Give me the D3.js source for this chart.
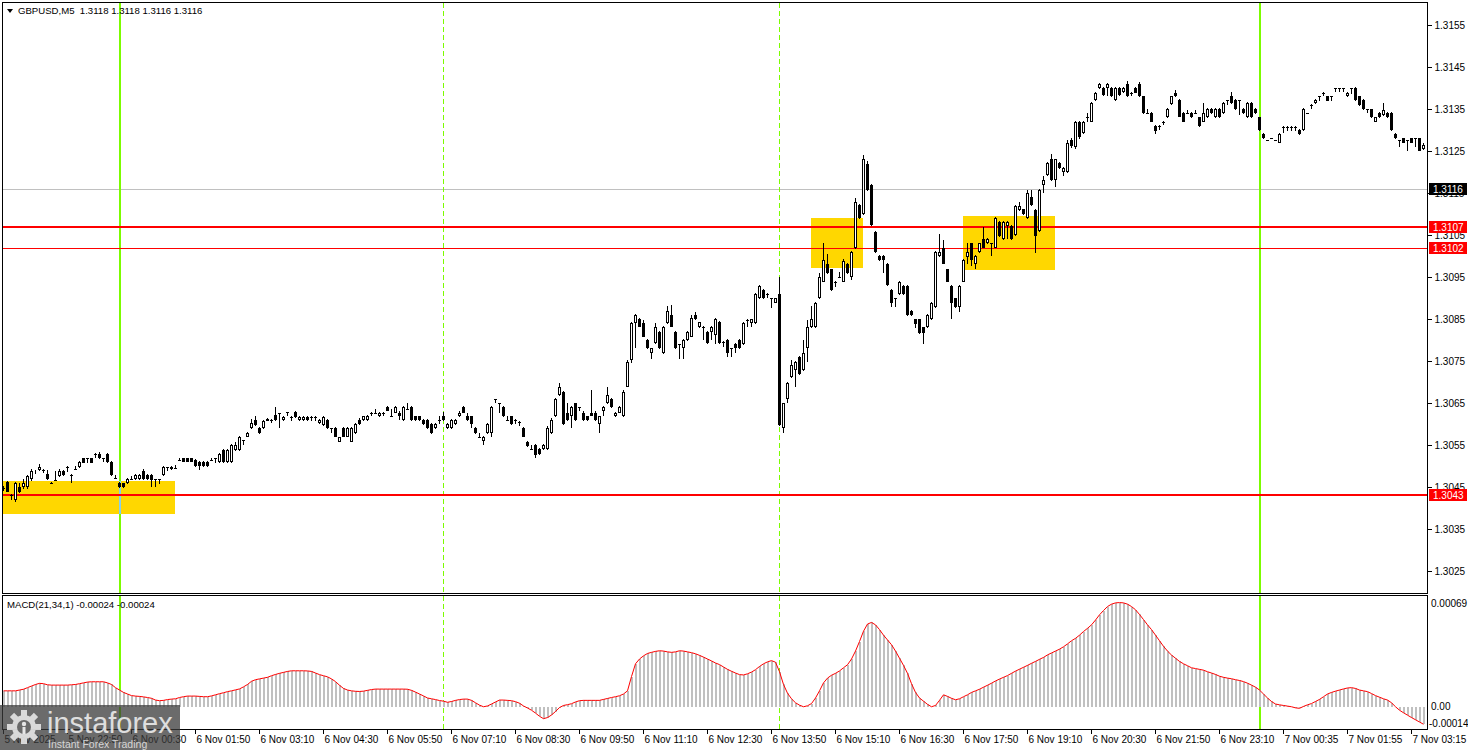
<!DOCTYPE html>
<html><head><meta charset="utf-8">
<script src="https://cdn.jsdelivr.net/npm/d3@7"></script>
<style>html,body{margin:0;padding:0;background:#fff;overflow:hidden}text{font-family:"Liberation Sans",Arial,sans-serif}</style>
</head><body><svg id="c" width="1468" height="750"></svg>
<script>
// ---- data ----
const BASE = 1.3;            // candle values are pips above BASE
const PIP = 0.0001;
const ohlcPips = [
[44.8,45.2,44.0,44.7],[46.3,46.5,43.7,43.9],[43.2,43.3,41.9,43.1],[41.9,46.3,41.5,45.9],[44.9,45.9,43.5,43.7],[44.9,46.9,44.5,45.9],[44.9,47.9,44.6,47.6],[46.8,49.2,46.5,48.9],
[48.9,49.1,48.0,49.0],[49.0,50.4,48.8,49.8],[49.0,49.2,48.4,49.0],[48.0,49.0,46.6,46.8],[46.0,46.1,45.9,46.0],[46.6,48.9,46.5,46.6],[47.6,49.2,47.4,48.9],[48.9,49.1,47.7,47.9],
[49.8,50.0,48.6,49.8],[47.9,48.0,45.9,47.9],[49.3,50.0,49.2,49.4],[49.7,51.3,49.5,51.0],[51.8,52.0,50.6,50.8],[51.8,51.9,50.8,51.8],[51.8,52.0,50.6,50.8],[52.9,53.0,52.0,52.9],
[52.9,53.3,51.6,51.8],[51.8,51.9,51.0,51.8],[52.9,53.1,50.8,51.0],[51.0,51.2,47.7,47.9],[47.1,47.9,47.0,47.1],[46.0,46.2,44.7,44.9],[45.9,46.0,44.7,44.9],[45.9,47.1,45.7,46.9],
[46.9,47.6,46.8,46.9],[46.8,48.1,46.6,47.9],[46.8,48.1,46.6,47.9],[48.9,49.3,46.6,46.8],[47.9,48.1,46.6,46.8],[47.9,48.0,45.1,46.7],[46.8,46.9,45.1,46.8],[46.8,46.9,45.8,46.8],
[47.9,50.0,47.7,49.8],[49.7,49.8,48.8,49.7],[49.2,49.9,49.0,49.7],[49.5,50.2,49.4,49.5],[51.4,51.9,51.3,51.4],[51.8,52.0,50.9,51.0],[51.8,52.0,50.9,51.0],[51.8,52.0,50.9,51.0],
[51.4,51.6,49.8,50.0],[51.0,51.2,49.0,50.0],[51.0,51.1,49.8,50.0],[51.0,51.1,49.8,50.0],[51.4,51.9,51.3,51.4],[51.8,51.9,50.6,51.8],[51.0,53.1,50.8,52.9],[53.8,54.0,50.8,51.0],
[51.0,54.0,50.8,53.8],[51.0,55.2,50.8,55.0],[53.9,55.8,53.6,55.0],[53.9,57.2,53.6,57.0],[56.2,56.3,55.0,56.2],[57.0,58.1,56.8,57.9],[59.0,61.3,58.8,60.2],[61.0,62.0,59.6,59.8],
[59.0,59.2,57.6,57.8],[59.0,61.0,58.8,60.8],[60.8,61.4,60.6,61.2],[61.0,61.1,60.2,61.0],[62.1,64.1,60.8,61.0],[62.5,62.6,59.0,62.5],[61.0,61.9,60.8,61.7],[62.8,62.9,61.8,62.8],
[61.7,61.8,60.8,61.7],[62.8,63.0,61.5,61.7],[61.0,61.9,60.8,61.7],[61.0,61.9,60.8,61.7],[61.7,61.9,60.8,61.0],[61.7,61.8,60.8,61.7],[61.7,61.8,60.8,61.7],[60.2,61.2,60.0,61.0],
[59.8,61.9,59.6,61.7],[61.0,61.3,58.8,59.0],[59.0,59.1,57.8,59.0],[59.0,59.2,56.8,57.0],[55.8,57.0,55.6,56.8],[59.0,59.2,56.8,57.0],[57.0,59.2,56.8,59.0],[55.8,59.2,55.6,59.0],
[57.8,60.2,57.6,60.0],[61.0,61.5,59.8,60.0],[61.0,61.9,60.8,61.8],[61.0,62.2,60.8,61.8],[62.7,62.8,61.8,62.7],[62.7,63.5,62.6,62.7],[61.8,62.8,61.6,62.7],[62.7,62.8,61.8,62.7],
[64.0,64.2,63.0,63.1],[62.0,63.5,61.9,62.0],[62.7,64.2,62.5,64.0],[62.7,63.0,61.0,61.8],[61.0,64.3,60.8,64.0],[63.5,64.9,63.4,63.5],[64.0,64.3,60.8,61.0],[61.8,62.0,60.8,61.0],
[61.8,62.0,60.8,61.0],[61.0,61.2,59.8,60.0],[61.0,61.2,58.8,59.0],[60.0,60.2,57.6,57.8],[59.0,60.2,58.8,60.0],[61.0,61.8,60.0,61.0],[61.8,62.8,60.8,61.0],[59.0,60.2,58.8,60.0],
[59.0,61.2,58.8,61.0],[60.0,61.2,59.8,61.0],[61.8,63.0,61.6,62.7],[64.0,64.2,62.5,62.7],[61.8,62.7,60.8,61.0],[61.8,62.0,59.0,60.0],[59.0,59.2,57.6,57.8],[57.0,57.8,56.9,57.0],
[55.9,57.2,55.0,57.0],[57.8,60.2,57.6,60.0],[57.8,64.2,57.0,64.0],[65.9,66.0,64.9,65.9],[64.9,65.0,62.7,64.9],[64.0,64.2,61.6,61.8],[61.0,62.0,60.9,61.0],[61.8,62.0,59.8,60.0],
[61.0,61.1,60.0,61.0],[60.5,60.6,59.5,60.5],[59.0,59.2,56.8,57.0],[55.8,56.0,54.6,54.8],[54.0,55.0,53.9,54.0],[55.0,55.2,51.8,52.6],[54.0,54.2,52.7,52.9],[54.0,55.2,53.8,55.0],
[54.0,59.5,53.8,59.0],[57.8,61.5,57.6,61.0],[61.8,66.2,61.6,65.9],[66.9,69.7,66.7,68.9],[67.7,67.9,59.8,60.0],[62.7,64.9,60.8,61.0],[61.8,64.2,59.0,64.0],[64.9,65.1,60.8,61.0],
[64.0,64.1,63.0,64.0],[62.7,63.0,60.8,61.0],[61.8,62.0,60.8,61.0],[62.7,68.1,61.8,61.9],[62.7,63.0,60.8,61.0],[60.0,62.0,57.8,61.8],[63.0,64.2,62.0,64.0],[64.9,68.9,64.7,66.9],
[65.9,66.1,63.8,64.0],[61.8,62.9,61.6,62.7],[62.7,64.2,62.5,64.0],[61.8,68.0,61.6,67.7],[68.9,75.2,68.7,74.8],[75.2,84.2,74.6,84.0],[84.0,86.2,78.0,86.0],[85.0,85.2,83.0,83.2],
[84.0,84.7,80.6,80.8],[80.0,80.2,77.8,78.0],[76.8,78.2,75.5,78.0],[79.2,84.0,79.0,83.2],[82.0,82.2,77.8,78.0],[76.8,83.4,76.6,83.2],[84.0,88.0,83.8,86.8],[86.0,88.3,83.0,83.2],
[82.0,82.2,77.8,78.0],[79.0,79.1,75.5,79.0],[78.0,80.2,75.5,80.0],[80.0,82.2,79.8,82.0],[80.8,86.0,80.6,85.2],[86.0,86.6,84.8,85.0],[83.0,84.4,82.8,84.2],[83.2,83.3,80.0,83.2],
[82.0,82.2,79.0,79.2],[82.0,83.4,80.0,83.2],[81.2,85.2,79.0,85.0],[84.4,84.6,79.0,79.2],[79.6,79.7,78.4,79.6],[80.0,80.2,76.0,76.8],[78.0,78.1,76.0,78.0],[79.0,79.2,77.0,78.0],
[80.0,80.2,77.8,78.0],[79.0,84.2,78.8,84.0],[84.8,84.9,83.2,84.8],[84.0,85.1,83.2,84.9],[84.0,91.2,83.8,91.0],[89.9,93.1,89.7,92.9],[91.9,92.1,89.7,89.9],[91.0,91.1,90.0,91.0],
[89.9,90.0,87.5,89.9],[88.9,90.1,88.7,89.9],[91.0,95.0,59.6,59.8],[59.0,65.1,57.8,64.9],[65.9,70.0,65.0,69.8],[71.3,75.2,71.0,74.0],[72.8,75.0,68.9,74.8],[75.9,76.1,71.7,71.9],
[72.8,80.0,72.6,76.8],[78.0,84.8,74.8,83.0],[83.0,88.0,82.8,84.9],[83.0,89.1,82.8,88.9],[89.9,95.9,89.7,95.1],[93.9,103.0,93.7,99.0],[98.1,100.5,95.7,95.9],[96.8,97.0,91.7,91.9],
[93.9,94.0,92.7,93.9],[95.1,96.3,95.0,95.1],[93.9,99.2,93.7,98.9],[98.1,98.3,95.7,95.9],[95.1,101.1,94.3,100.9],[101.8,113.8,101.6,112.9],[112.1,112.3,108.8,109.0],[110.0,124.0,109.8,123.0],
[122.0,122.5,115.5,115.7],[117.0,117.2,107.2,107.4],[105.8,106.0,100.7,100.9],[100.0,100.2,98.8,99.0],[100.0,100.2,95.9,99.0],[98.1,98.3,92.9,93.1],[91.9,92.1,87.9,88.9],[89.9,90.0,87.9,89.9],
[90.9,94.1,90.7,93.9],[92.9,93.1,90.7,90.9],[92.9,93.1,85.7,85.9],[86.9,87.1,85.7,85.9],[84.9,85.1,82.8,83.9],[84.9,85.1,81.5,81.7],[83.0,83.2,79.0,81.7],[83.0,86.1,82.8,85.9],
[84.9,89.1,84.7,88.9],[87.9,101.1,87.7,100.9],[100.0,105.2,99.8,100.9],[101.8,103.8,98.0,98.1],[96.8,97.0,93.7,93.9],[92.9,93.1,84.9,88.9],[89.9,90.1,87.7,87.9],[87.9,93.1,86.7,92.9],
[93.9,99.2,93.7,99.0],[99.8,103.0,98.1,100.9],[103.0,103.2,97.5,99.0],[98.1,100.2,96.8,100.0],[101.0,103.2,100.8,103.0],[104.0,106.8,101.8,102.0],[103.0,104.2,102.8,104.0],[103.0,103.1,100.0,103.0],
[102.0,109.2,101.8,109.0],[108.2,108.4,104.6,104.8],[104.0,108.4,103.8,108.2],[107.2,108.4,104.0,108.2],[107.2,107.4,103.8,104.0],[105.0,112.2,104.8,112.0],[111.0,112.9,110.8,112.0],[111.1,111.3,109.8,110.0],
[109.0,115.7,108.8,114.9],[114.1,115.8,111.9,112.1],[110.9,111.1,100.6,104.8],[106.0,115.9,105.8,115.7],[116.9,119.0,115.0,118.1],[119.3,122.3,119.1,122.1],[123.0,124.2,117.9,118.1],[118.1,123.2,116.5,123.0],
[122.1,122.3,120.7,120.9],[120.0,121.1,119.0,120.9],[120.0,127.5,119.8,126.8],[127.5,128.0,125.8,126.2],[126.0,132.2,125.5,132.0],[132.0,132.2,127.8,128.4],[129.2,132.2,129.0,132.0],[133.2,134.0,132.0,133.2],
[132.0,136.6,131.8,136.4],[137.1,139.1,136.9,138.9],[140.0,141.3,139.8,141.0],[140.0,140.2,138.1,138.3],[140.0,141.3,138.0,141.0],[140.0,140.2,137.9,138.1],[137.1,140.2,136.9,140.0],[140.0,140.2,138.1,138.3],
[139.0,140.2,138.8,140.0],[141.0,141.6,137.8,138.0],[138.9,139.0,138.0,138.9],[140.0,140.2,138.7,138.9],[141.0,141.5,137.8,138.0],[138.0,138.2,133.8,134.0],[134.0,135.0,133.9,134.0],[134.0,134.2,131.8,132.0],
[131.0,131.2,129.0,129.8],[131.0,131.1,130.0,131.0],[132.0,132.1,131.2,132.0],[133.0,135.2,132.8,135.0],[136.1,138.2,135.9,138.0],[138.9,139.5,137.8,138.0],[137.1,137.3,133.0,133.2],[134.0,134.2,131.8,132.0],
[134.0,134.8,133.9,134.0],[134.0,134.2,132.8,133.0],[134.0,134.8,133.9,134.0],[133.0,133.2,130.8,131.0],[132.0,136.4,131.8,134.0],[133.0,135.2,132.8,135.0],[135.0,135.2,133.8,134.0],[133.0,135.2,132.8,135.0],
[135.0,135.2,132.8,133.0],[134.0,136.6,133.8,136.4],[137.1,137.2,136.0,137.1],[138.0,139.0,136.2,136.4],[137.1,137.3,134.7,134.9],[137.1,137.2,133.5,137.1],[135.0,135.2,133.8,134.0],[133.0,136.6,132.8,136.4],
[136.4,136.6,132.8,133.0],[135.0,135.2,133.8,134.0],[133.0,133.2,129.8,130.0],[129.0,129.2,127.8,128.0],[127.6,127.7,127.5,127.6],[128.0,128.1,127.9,128.0],[127.5,127.6,127.4,127.5],[127.0,129.2,126.8,129.0],
[130.8,130.9,129.2,130.8],[130.8,130.9,129.8,130.8],[130.8,130.9,129.8,130.8],[130.8,130.9,129.8,130.8],[130.0,130.2,128.8,129.0],[130.0,135.2,129.8,134.9],[134.0,134.1,133.9,134.0],[136.0,136.1,135.0,136.0],
[136.4,137.4,136.2,137.1],[138.0,138.1,137.0,138.0],[138.9,139.0,138.0,138.9],[138.0,138.2,136.8,137.0],[138.0,138.1,137.0,138.0],[140.0,140.1,139.0,140.0],[140.0,140.1,139.0,140.0],[140.0,140.1,139.0,140.0],
[138.0,139.1,137.8,138.9],[140.0,140.1,138.5,140.0],[140.0,140.2,136.9,137.1],[138.0,138.2,135.8,136.0],[137.1,137.3,134.7,134.9],[134.9,135.0,134.0,134.9],[134.9,135.1,132.8,133.0],[132.0,133.2,131.8,133.0],
[134.0,134.2,132.8,133.0],[133.5,136.4,133.3,134.8],[134.0,134.2,132.8,133.0],[134.0,134.2,129.8,130.0],[129.0,129.2,127.8,128.0],[127.6,127.7,126.0,127.6],[128.0,128.2,126.8,127.0],[127.6,127.7,125.0,127.6],
[128.0,128.2,126.8,127.0],[128.0,128.1,126.0,128.0],[128.0,128.2,124.9,125.1],[125.5,127.0,125.3,126.5]
];
// MACD(21,34,1) main value per bar, in units of 0.00001
const macdE5 = [
10,10,10,10,10.5,11,12,13,14,14.7,14.5,13.8,13.6,13.6,13.6,13.6,
13.6,13.8,14,14.5,15,15.5,15.7,15.7,15.7,15.7,15,14,12,10.5,9,8,
7,6.7,6.5,6.2,5.8,5.3,4.2,3.8,4,4.5,4.8,5,5.8,6.3,6.7,6.7,
6.7,6.5,6.3,6.3,6.8,7.5,8.2,8.8,9.5,10,10.6,11.2,12.5,14,16,17,
17.5,18,18.5,19.5,20.3,21,21.6,22.2,22.6,22.6,22.6,22.6,22.5,22.2,21.2,20.2,
19.5,18.8,17.5,15.8,13.5,11.5,10.5,10,9.7,9.6,9.8,10.3,10.8,11.1,11.1,11.1,
11.1,11.1,11.1,11.1,11.1,11,10.3,9.2,8,6.8,5.5,5,4.5,3.9,3.5,2.8,
3.3,4,4.5,4.8,4.8,4,2.5,1,0,0.5,1.7,3,4.2,4.2,4,3.8,
3.2,2.2,0.5,-0.8,-2.2,-4,-6,-7.5,-6.8,-5.2,-3,-0.5,0.8,1.3,1.9,3,
3.8,4,4,4,4,4,4.6,5.2,5.8,6.3,6.9,8,10,19,27,30,
32,33.5,34.2,34.8,35.2,35,34.5,34.2,34.5,35.2,35,34.5,34,33.3,32.3,31.2,
30,28.8,27.5,26.5,25,23.5,22.3,21.2,20.2,20,20.7,21.8,23.3,25.3,27,28.2,
29,28,22,14,8.5,5,2.5,1,0,0.6,2,5.5,10,15,18,19.8,
21,22.5,24.5,26.4,30,35,41,47.5,52,53,51.5,48.5,45,42,39,35,
30.5,26,21,14.5,9,5.5,3.5,1.5,0,0.8,4,7.5,6.5,5.3,4.4,5,
6.3,7.5,9,10,11,12.3,13.5,14.8,16.2,17.4,18.5,19.6,21,22.4,23.6,24.8,
26,27.3,28.5,29.8,31,32.6,33.8,35,36.2,37.7,39.5,41.5,43,45,47.3,49.3,
51.5,54.5,57.8,60.5,63,64.5,65.3,65.5,65.3,64.5,63,61,58,54.8,51.5,48.5,
45,41.5,38,35,32.5,30.5,28.5,27,25.8,24.5,24,23.5,23,22,21.2,20.3,
19.2,18.5,18,17.6,17,16.5,15.8,14.8,13.6,12.3,10.5,8,5.5,3.3,1.7,1.2,
0.8,0.4,0,-0.7,-1,0.2,1.2,2,3.3,4.6,6.3,8,9,9.8,10.5,11.2,
11.8,12,11.5,10.5,10,9.5,8.3,7,6,5,4.2,2.5,0,-2.2,-3.8,-5.3,
-6.8,-8.2,-9.6,-11
];
const timeLabels = ["5 Nov 2025","5 Nov 22:50","6 Nov 00:30","6 Nov 01:50","6 Nov 03:10","6 Nov 04:30","6 Nov 05:50","6 Nov 07:10","6 Nov 08:30","6 Nov 09:50","6 Nov 11:10","6 Nov 12:30","6 Nov 13:50","6 Nov 15:10","6 Nov 16:30","6 Nov 17:50","6 Nov 19:10","6 Nov 20:30","6 Nov 21:50","6 Nov 23:10","7 Nov 00:35","7 Nov 01:55","7 Nov 03:15"];
const BARS_PER_LABEL = 16;
const priceTicks = [1.3025,1.3035,1.3045,1.3055,1.3065,1.3075,1.3085,1.3095,1.3105,1.3115,1.3125,1.3135,1.3145,1.3155];
const levelPrices = [1.3107, 1.3102, 1.3043];
const bidPrice = 1.3116;
// zones: [first bar, last bar, low price, high price]
const zoneBars = [[0,43],[202,215],[240,263]];
const zonePrices = [[1.30386,1.30464],[1.30971,1.31090],[1.30967,1.31095]];
const solidLineBars = [29, 314];
const dashedLineBars = [110, 194];
const macdTickValues = [0.00069, 0, -0.00014];
const macdTickLabels = ["0.00069", "0.00", "-0.00014"];
const headerText = "GBPUSD,M5  1.3118 1.3118 1.3116 1.3116";
const macdText = "MACD(21,34,1) -0.00024 -0.00024";

// ---- layout ----
const L = 3, R = 1427, MT = 3, MB = 593, IT = 596, IB = 729;
const svg = d3.select("#c");
const n = ohlcPips.length;
const x = d3.scaleLinear().domain([0, n - 1]).range([3.5, 3.5 + 4 * (n - 1)]);
const y = d3.scaleLinear().domain([1.3155, 1.3025]).range([25, 571]);
const ym = d3.scaleLinear().domain([0.00069, -0.00014]).range([IB - 132, IB]);
const price = v => BASE + v * PIP;

svg.append("rect").attr("width", 1468).attr("height", 750).attr("fill", "#fff");

const defs = svg.append("defs");
defs.append("clipPath").attr("id", "cm").append("rect").attr("x", L).attr("y", MT).attr("width", R - L).attr("height", MB - MT);
defs.append("clipPath").attr("id", "ci").append("rect").attr("x", L).attr("y", IT).attr("width", R - L).attr("height", IB - IT);

const main = svg.append("g").attr("clip-path", "url(#cm)");
const ind = svg.append("g").attr("clip-path", "url(#ci)");

// zones
zoneBars.forEach((b, k) => {
  const p = zonePrices[k];
  main.append("rect").attr("x", Math.round(x(b[0]) - 0.5)).attr("width", Math.round(x(b[1]) - x(b[0])))
    .attr("y", Math.round(y(p[1]))).attr("height", Math.round(y(p[0]) - y(p[1])))
    .attr("fill", "#FFD700").attr("shape-rendering", "crispEdges");
});

// bid line
main.append("line").attr("x1", L).attr("x2", R).attr("y1", Math.round(y(bidPrice)) + 0.5).attr("y2", Math.round(y(bidPrice)) + 0.5)
  .attr("stroke", "#c0c0c0").attr("stroke-width", 1).attr("shape-rendering", "crispEdges");

// vertical lines in both panels
[main, ind].forEach((g, gi) => {
  const top = gi === 0 ? MT : IT, bot = gi === 0 ? MB : IB;
  solidLineBars.forEach(b => {
    g.append("rect").attr("x", Math.round(x(b)) - 1.5).attr("width", 2).attr("y", top).attr("height", bot - top)
      .attr("fill", "#7CFC00").attr("shape-rendering", "crispEdges");
  });
  dashedLineBars.forEach(b => {
    g.append("line").attr("x1", Math.round(x(b)) - 0.5).attr("x2", Math.round(x(b)) - 0.5).attr("y1", top).attr("y2", bot)
      .attr("stroke", "#7CFC00").attr("stroke-dasharray", "5,3").attr("shape-rendering", "crispEdges");
  });
});
// XOR-like tint where the first green line crosses the first zone
{
  const b = solidLineBars[0], p = zonePrices[0];
  main.append("rect").attr("x", Math.round(x(b)) - 1.5).attr("width", 2)
    .attr("y", Math.round(y(p[1]))).attr("height", Math.round(y(p[0]) - y(p[1])))
    .attr("fill", "#87CEEB").attr("shape-rendering", "crispEdges");
}

// level lines
levelPrices.forEach((pv, k) => {
  const w = k === 1 ? 1 : 2;
  const yy = Math.round(y(pv));
  main.append("rect").attr("x", L).attr("width", R - L).attr("y", yy - (w === 2 ? 1 : 0)).attr("height", w)
    .attr("fill", "#FF0000").attr("shape-rendering", "crispEdges");
});

// candles
const cg = main.append("g").attr("shape-rendering", "crispEdges");
ohlcPips.forEach((d, i) => {
  const [o, h, l, c] = d.map(price);
  const xc = Math.round(x(i) - 0.5) + 0.5;
  const yh = Math.round(y(h)), yl = Math.round(y(l));
  cg.append("line").attr("x1", xc).attr("x2", xc).attr("y1", yh).attr("y2", Math.max(yl, yh + 1)).attr("stroke", "#000");
  const yo = Math.round(y(o)), yc = Math.round(y(c));
  const top = Math.min(yo, yc), bot = Math.max(yo, yc);
  if (bot - top < 1) {
    cg.append("line").attr("x1", xc - 1.5).attr("x2", xc + 1.5).attr("y1", top + 0.5).attr("y2", top + 0.5).attr("stroke", "#000");
  } else if (c >= o) {
    cg.append("rect").attr("x", xc - 1).attr("y", top + 0.5).attr("width", 2).attr("height", bot - top - 1 < 0 ? 0 : bot - top - 1)
      .attr("fill", "#fff").attr("stroke", "#000");
  } else {
    cg.append("rect").attr("x", xc - 1.5).attr("y", top).attr("width", 3).attr("height", bot - top).attr("fill", "#000");
  }
});

// MACD histogram + line
const hg = ind.append("g").attr("shape-rendering", "crispEdges");
const y0 = Math.round(ym(0));
macdE5.forEach((v, i) => {
  const yy = Math.round(ym(v * 1e-5));
  hg.append("rect").attr("x", Math.round(x(i) - 0.5)).attr("width", 2)
    .attr("y", Math.min(yy, y0)).attr("height", Math.abs(yy - y0)).attr("fill", "#c0c0c0");
});
ind.append("path").datum(macdE5)
  .attr("d", d3.line().x((v, i) => x(i)).y(v => ym(v * 1e-5)))
  .attr("fill", "none").attr("stroke", "#FF0000").attr("stroke-width", 1);

// frames
[[MT, MB], [IT, IB]].forEach(([t, b]) => {
  svg.append("rect").attr("x", L - 0.5).attr("y", t - 0.5).attr("width", R - L + 1).attr("height", b - t + 1)
    .attr("fill", "none").attr("stroke", "#000").attr("shape-rendering", "crispEdges");
});

// price axis
const pa = svg.append("g").attr("transform", `translate(${R + 0.5},0)`)
  .call(d3.axisRight(y).tickValues(priceTicks).tickSize(4).tickPadding(3).tickFormat(d3.format(".4f")));
pa.select(".domain").remove();
pa.selectAll("line").attr("stroke", "#000").attr("shape-rendering", "crispEdges");
pa.selectAll("text").attr("font-size", 10).attr("fill", "#000").attr("font-family", "Liberation Sans, Arial, sans-serif");

// level price boxes
function priceBox(pv, fill) {
  const yy = Math.round(y(pv));
  svg.append("rect").attr("x", R + 2).attr("y", yy - 6).attr("width", 38).attr("height", 12).attr("fill", fill);
  svg.append("text").attr("x", R + 6).attr("y", yy + 4).attr("font-size", 10).attr("fill", "#fff").text(pv.toFixed(4));
}
priceBox(bidPrice, "#000");
levelPrices.forEach(pv => priceBox(pv, "#FF0000"));

// MACD axis labels
macdTickValues.forEach((v, k) => {
  const yy = k === 0 ? ym(v) + 6 : (k === 2 ? ym(v) - 6 : ym(v));
  svg.append("text").attr("x", k === 2 ? R + 2 : R + 4).attr("y", yy + 3.5).attr("font-size", 10).attr("fill", "#000").text(macdTickLabels[k]);
});

// time axis
const tickIdx = timeLabels.map((t, k) => k * BARS_PER_LABEL);
const ta = svg.append("g").attr("transform", `translate(-0.5,${IB + 0.5})`)
  .call(d3.axisBottom(x).tickValues(tickIdx).tickSize(4).tickPadding(2).tickFormat((d, k) => timeLabels[k]));
ta.select(".domain").remove();
ta.selectAll("line").attr("stroke", "#000").attr("shape-rendering", "crispEdges");
ta.selectAll("text").attr("font-size", 10).attr("fill", "#000").attr("text-anchor", "start").attr("dx", 1)
  .attr("font-family", "Liberation Sans, Arial, sans-serif");

// header and indicator caption
svg.append("path").attr("d", "M7,9 L13,9 L10,13 Z").attr("fill", "#000");
svg.append("text").attr("x", 18).attr("y", 14).attr("font-size", 9.6).attr("fill", "#000").attr("xml:space", "preserve").text(headerText);
svg.append("text").attr("x", 7).attr("y", 608).attr("font-size", 9.6).attr("fill", "#000").text(macdText);

// logo
const logo = svg.append("g");
logo.append("rect").attr("x", 0).attr("y", 705).attr("width", 180).attr("height", 45).attr("fill", "#3a3a3a").attr("opacity", 0.75);
const gx = 24, gy = 727;
const gear = logo.append("g").attr("fill", "#e6e6e6").attr("opacity", 0.9);
for (let k = 0; k < 8; k++) {
  gear.append("rect").attr("x", gx - 3).attr("y", gy - 17).attr("width", 6).attr("height", 8)
    .attr("transform", `rotate(${k * 45},${gx},${gy})`);
}
gear.append("circle").attr("cx", gx).attr("cy", gy).attr("r", 12);
logo.append("circle").attr("cx", gx).attr("cy", gy).attr("r", 7).attr("fill", "#6a6a6a");
logo.append("circle").attr("cx", gx).attr("cy", gy - 3).attr("r", 2.2).attr("fill", "#e6e6e6");
logo.append("rect").attr("x", gx - 1.5).attr("y", gy).attr("width", 3).attr("height", 7).attr("fill", "#e6e6e6");
logo.append("text").attr("x", 47).attr("y", 733).attr("font-size", 29).attr("fill", "#e8e8e8").attr("opacity", 0.92).text("instaforex");
logo.append("text").attr("x", 48).attr("y", 748).attr("font-size", 10.5).attr("fill", "#e8e8e8").attr("opacity", 0.85).text("Instant Forex Trading");
</script>
</body></html>
